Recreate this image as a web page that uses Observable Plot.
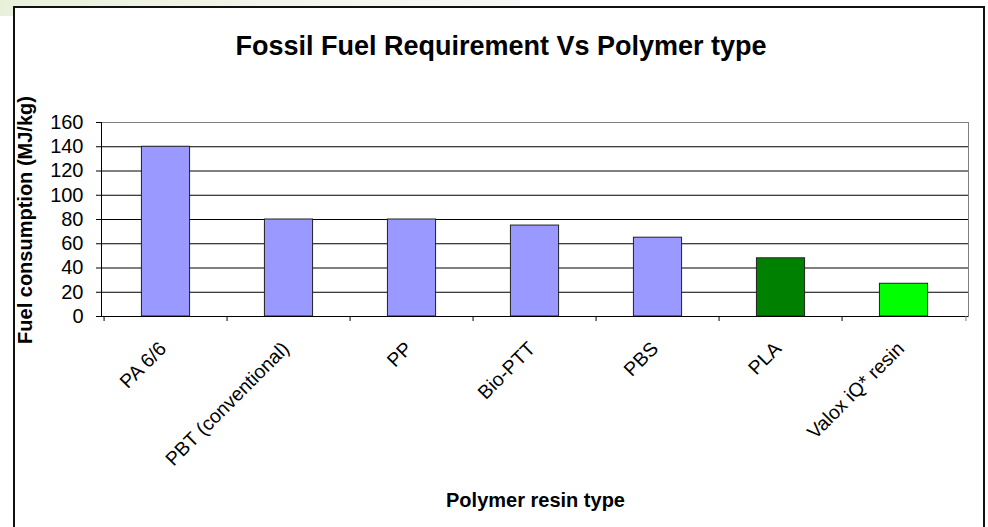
<!DOCTYPE html>
<html><head><meta charset="utf-8">
<script src="https://cdn.jsdelivr.net/npm/d3@7"></script>
<script src="https://cdn.jsdelivr.net/npm/@observablehq/plot@0.6"></script>
<style>
html,body{margin:0;padding:0;background:#fff;}
#wrap{position:relative;width:988px;height:527px;overflow:hidden;font-family:"Liberation Sans",Arial,sans-serif;}
#deco{position:absolute;left:0;top:0;width:520px;height:16px;background:linear-gradient(90deg,#e9f0da 0%,#eef3e4 30%,#f5f7ef 70%,#f7f8f3 100%);}
#box{position:absolute;left:13px;top:6px;width:972px;height:540px;border:2px solid #111;box-sizing:border-box;background:#fff;}
#chart{position:absolute;left:0;top:0;}
</style>
</head><body>
<div id="wrap"><div id="deco"></div><div id="box"></div><div id="chart"></div></div>
<script>
const categories = ["PA 6/6", "PBT (conventional)", "PP", "Bio-PTT", "PBS", "PLA", "Valox iQ* resin"];
const values = [140, 80, 80, 75, 65, 48, 27];
const barColors = ["#9999ff", "#9999ff", "#9999ff", "#9999ff", "#9999ff", "#008000", "#00ff00"];
const yTicks = [0, 20, 40, 60, 80, 100, 120, 140, 160];
const titleText = "Fossil Fuel Requirement Vs Polymer type";
const yLabel = "Fuel consumption (MJ/kg)";
const xLabel = "Polymer resin type";

const data = categories.map((c, i) => ({category: c, value: values[i]}));

const W = 988, H = 527, mL = 101, mR = 20, mT = 122, mB = 211;
const bw = (W - mL - mR) / categories.length;
const plotH = H - mT - mB;
const barW = 49;

const chart = Plot.plot({
  width: W, height: H,
  marginLeft: mL, marginRight: mR, marginTop: mT, marginBottom: mB,
  style: {background: "transparent", fontFamily: "'Liberation Sans', Arial, sans-serif", fontSize: "20px", color: "#000"},
  x: {domain: categories, padding: 0, axis: null},
  y: {domain: [0, 160], axis: null},
  color: {domain: categories, range: barColors},
  marks: [
    Plot.frame({stroke: "#808080"}),
    Plot.ruleY(yTicks.filter(t => t > 0 && t < 160), {stroke: "#000", strokeWidth: 1}),
    Plot.barY(data, {x: "category", y: "value", fill: "category", stroke: "#222", strokeWidth: 1,
      insetLeft: (bw - barW) / 2, insetRight: (bw - barW) / 2}),
    Plot.ruleY([0], {stroke: "#000"}),
    Plot.frame({anchor: "left", stroke: "#000"}),
    Plot.axisY({ticks: yTicks, tickSize: 5, tickPadding: 13, label: null, fontSize: 20, tickFormat: d => String(d)}),
    Plot.axisX({tickSize: 0, tickPadding: 29, tickRotate: -45, fontSize: 19.5, label: null, dx: -3}),
    Plot.ruleX(categories, {x: d => d, dx: -bw / 2, insetTop: plotH, insetBottom: -5, stroke: "#000"}),
    Plot.ruleX(categories.slice(-1), {x: d => d, dx: bw / 2, insetTop: plotH, insetBottom: -5, stroke: "#808080"})
  ]
});
document.getElementById("chart").appendChild(chart);

const svg = d3.select(chart);
svg.append("text").attr("x", 501).attr("y", 55).attr("text-anchor", "middle")
  .attr("font-size", 27).attr("font-weight", "bold").attr("fill", "#000").text(titleText);
svg.append("text").attr("x", 535.5).attr("y", 507).attr("text-anchor", "middle")
  .attr("font-size", 20).attr("font-weight", "bold").attr("fill", "#000").text(xLabel);
svg.append("text").attr("transform", "translate(32,220) rotate(-90)").attr("text-anchor", "middle")
  .attr("font-size", 20).attr("font-weight", "bold").attr("fill", "#000").text(yLabel);
</script>
</body></html>
